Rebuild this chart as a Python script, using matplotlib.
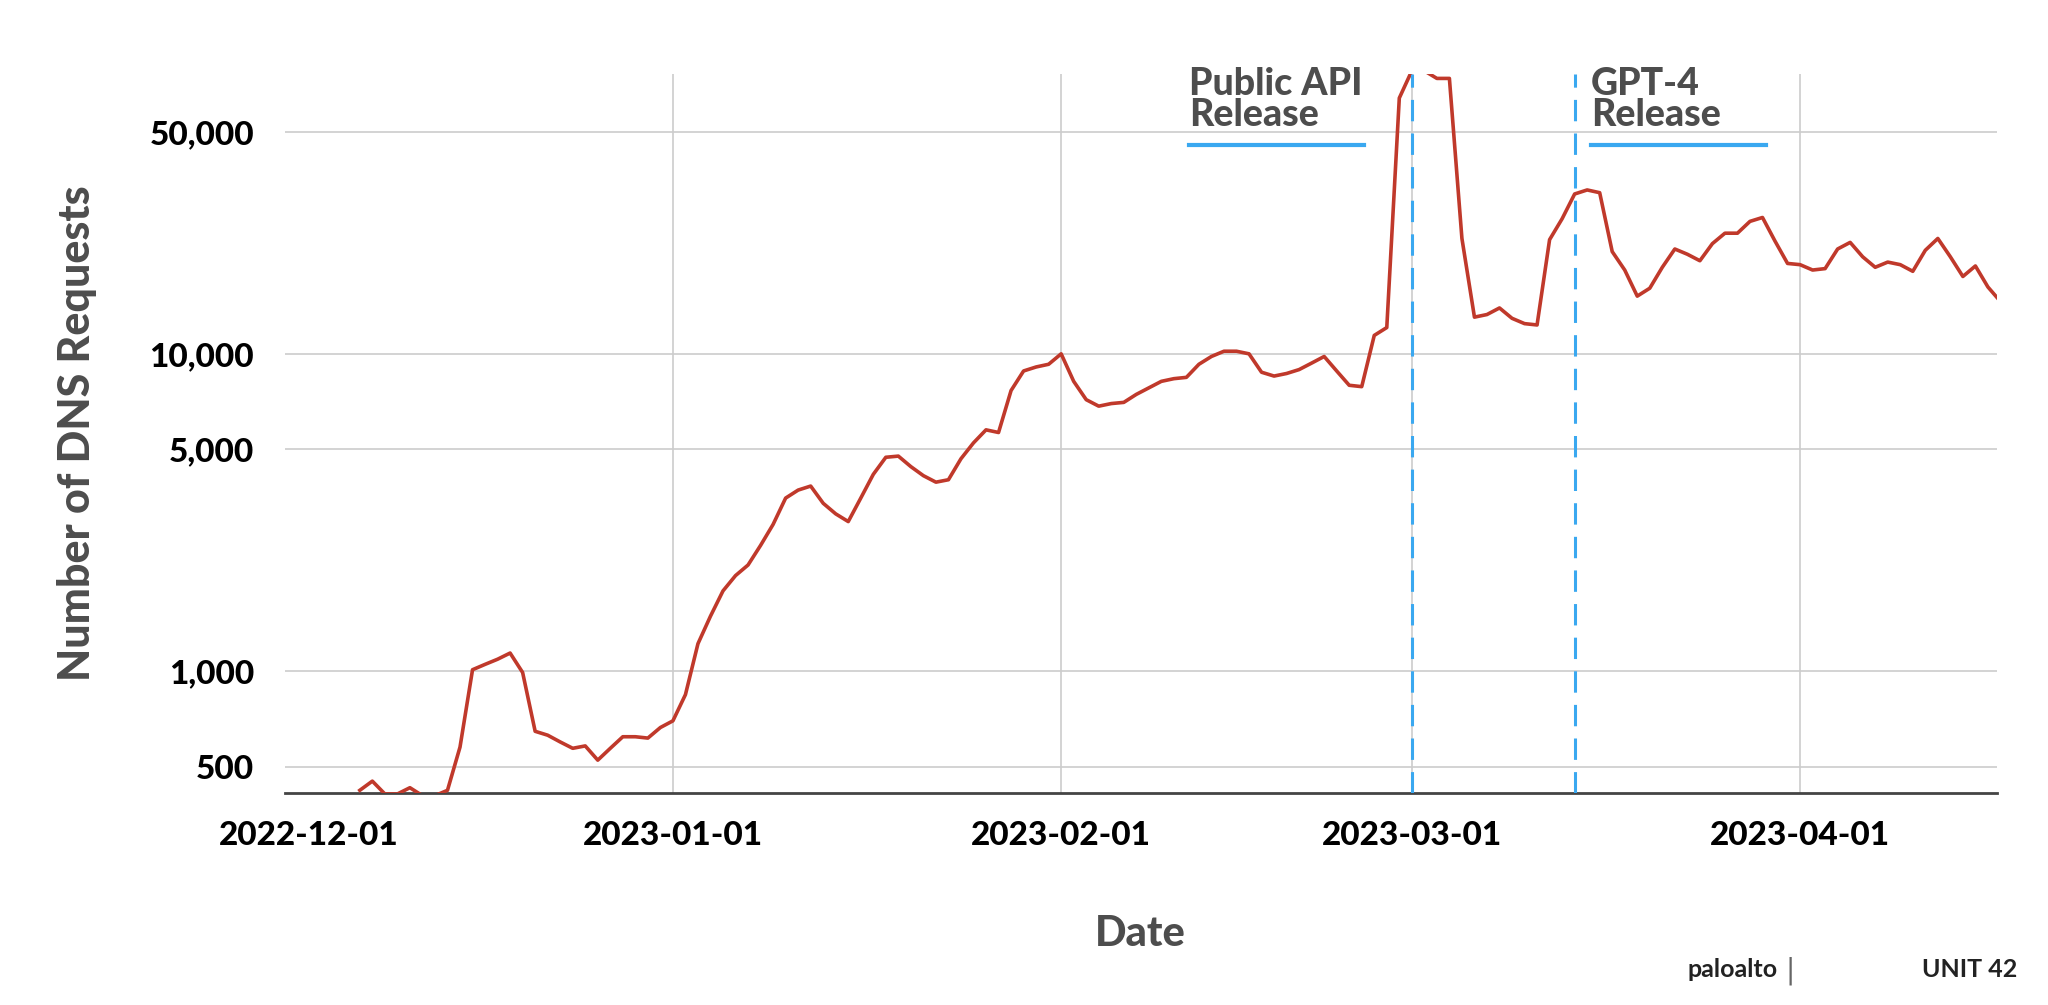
import matplotlib
matplotlib.use("Agg")
import matplotlib.pyplot as plt
import matplotlib.ticker as mticker
import matplotlib.transforms as mtransforms
import numpy as np
import datetime as dt

start_date = "2022-12-07"
requests = [421, 450, 410, 410, 429, 405, 405, 421, 576, 1010, 1050, 1090, 1140, 990,
            646, 628, 598, 571, 581, 524, 571, 621, 621, 615, 664, 697, 843, 1220, 1490,
            1790, 2000, 2160, 2490, 2900, 3510, 3720, 3830, 3380, 3130, 2960, 3510, 4170,
            4720, 4760, 4410, 4130, 3940, 4010, 4670, 5240, 5760, 5650, 7660, 8830, 9090,
            9270, 10000, 8190, 7170, 6840, 6970, 7030, 7450, 7810, 8190, 8350, 8430, 9270,
            9810, 10190, 10190, 10000, 8750, 8510, 8670, 8920, 9350, 9810, 8830, 7960, 7880,
            11430, 12100, 64000, 78000, 78000, 73800, 73800, 23100, 13050, 13300, 13950,
            12940, 12450, 12330, 22900, 26650, 31900, 32850, 32200, 21000, 18370, 15200,
            16100, 18740, 21400, 20600, 19650, 22250, 24000, 24000, 26150, 26900, 22660,
            19270, 19100, 18370, 18560, 21400, 22450, 20220, 18740, 19460, 19100, 18200,
            21200, 23100, 20220, 17530, 18920, 16240, 14620]
event_dates = ["2023-03-01", "2023-03-14"]
event_labels = ["Public API\nRelease", "GPT-4\nRelease"]
x_ticks = ["2022-12-01", "2023-01-01", "2023-02-01", "2023-03-01", "2023-04-01"]
y_ticks = [500, 1000, 5000, 10000, 50000]

d0 = np.datetime64(start_date)
dates = (d0 + np.arange(len(requests))).astype("datetime64[D]").astype(dt.datetime)

FONT = "Lato"
fig = plt.figure(figsize=(20.48, 10.05), dpi=100)
ax = fig.add_axes([0.139, 0.211, 0.836, 0.715])
ax.plot(dates, requests, color="#c0392b", lw=2.6, zorder=3)
ax.set_yscale("log")
ax.set_ylim(413, 76000)
ax.set_xlim(dt.datetime(2022, 12, 1, 10), dt.datetime(2023, 4, 16, 17))
ax.yaxis.set_major_locator(mticker.FixedLocator(y_ticks))
ax.yaxis.set_minor_locator(mticker.NullLocator())
ax.yaxis.set_major_formatter(mticker.FuncFormatter(lambda v, p: f"{int(v):,}"))
xt = [dt.datetime.strptime(s, "%Y-%m-%d") for s in x_ticks]
ax.set_xticks(xt)
ax.set_xticklabels(x_ticks)
ax.grid(True, color="#cccccc", lw=1.2)
for t in ax.get_xgridlines()[:1]:
    t.set_visible(False)
for s in ["top", "right", "left"]:
    ax.spines[s].set_visible(False)
ax.spines["bottom"].set_color("#444444")
ax.spines["bottom"].set_linewidth(2)
ax.tick_params(axis="x", length=0, pad=20)
ax.tick_params(axis="y", length=0, pad=22)
for lab in ax.get_xticklabels() + ax.get_yticklabels():
    lab.set_fontfamily(FONT); lab.set_fontweight("black"); lab.set_fontsize(24); lab.set_color("black")
first = ax.get_xticklabels()[0]
first.set_transform(first.get_transform() + mtransforms.ScaledTranslation(0.24, 0, fig.dpi_scale_trans))
ax.set_xlabel("Date", fontfamily=FONT, fontweight="black", fontsize=30, color="#4d4d4d", labelpad=47)
ax.set_ylabel("Number of DNS Requests", fontfamily=FONT, fontweight="black", fontsize=31, color="#4d4d4d", labelpad=38)

offsets = [-18.1, 1]
for ed, lbl, off in zip(event_dates, event_labels, offsets):
    d = dt.datetime.strptime(ed, "%Y-%m-%d")
    ax.axvline(d, color="#3aa8f0", lw=2.2, ls=(0, (7, 4)), zorder=4)
    tx = d + dt.timedelta(days=off + 0.3)
    ax.text(tx, 1.01, lbl, transform=ax.get_xaxis_transform(), ha="left", va="top",
            fontfamily=FONT, fontweight="black", fontsize=27, color="#4d4d4d", linespacing=0.9)
    ax.plot([tx, tx + dt.timedelta(days=14)], [0.902, 0.902], transform=ax.get_xaxis_transform(),
            color="#3aa8f0", lw=3, clip_on=False)

fig.text(0.868, 0.028, "paloalto", fontfamily=FONT, fontweight="bold", fontsize=18, ha="right", color="#222222")
fig.text(0.872, 0.026, "|", fontsize=20, color="#666666")
fig.text(0.985, 0.028, "UNIT 42", fontfamily=FONT, fontweight="bold", fontsize=18, ha="right", color="#222222")
fig.savefig("out.png", dpi=100, facecolor="white")
